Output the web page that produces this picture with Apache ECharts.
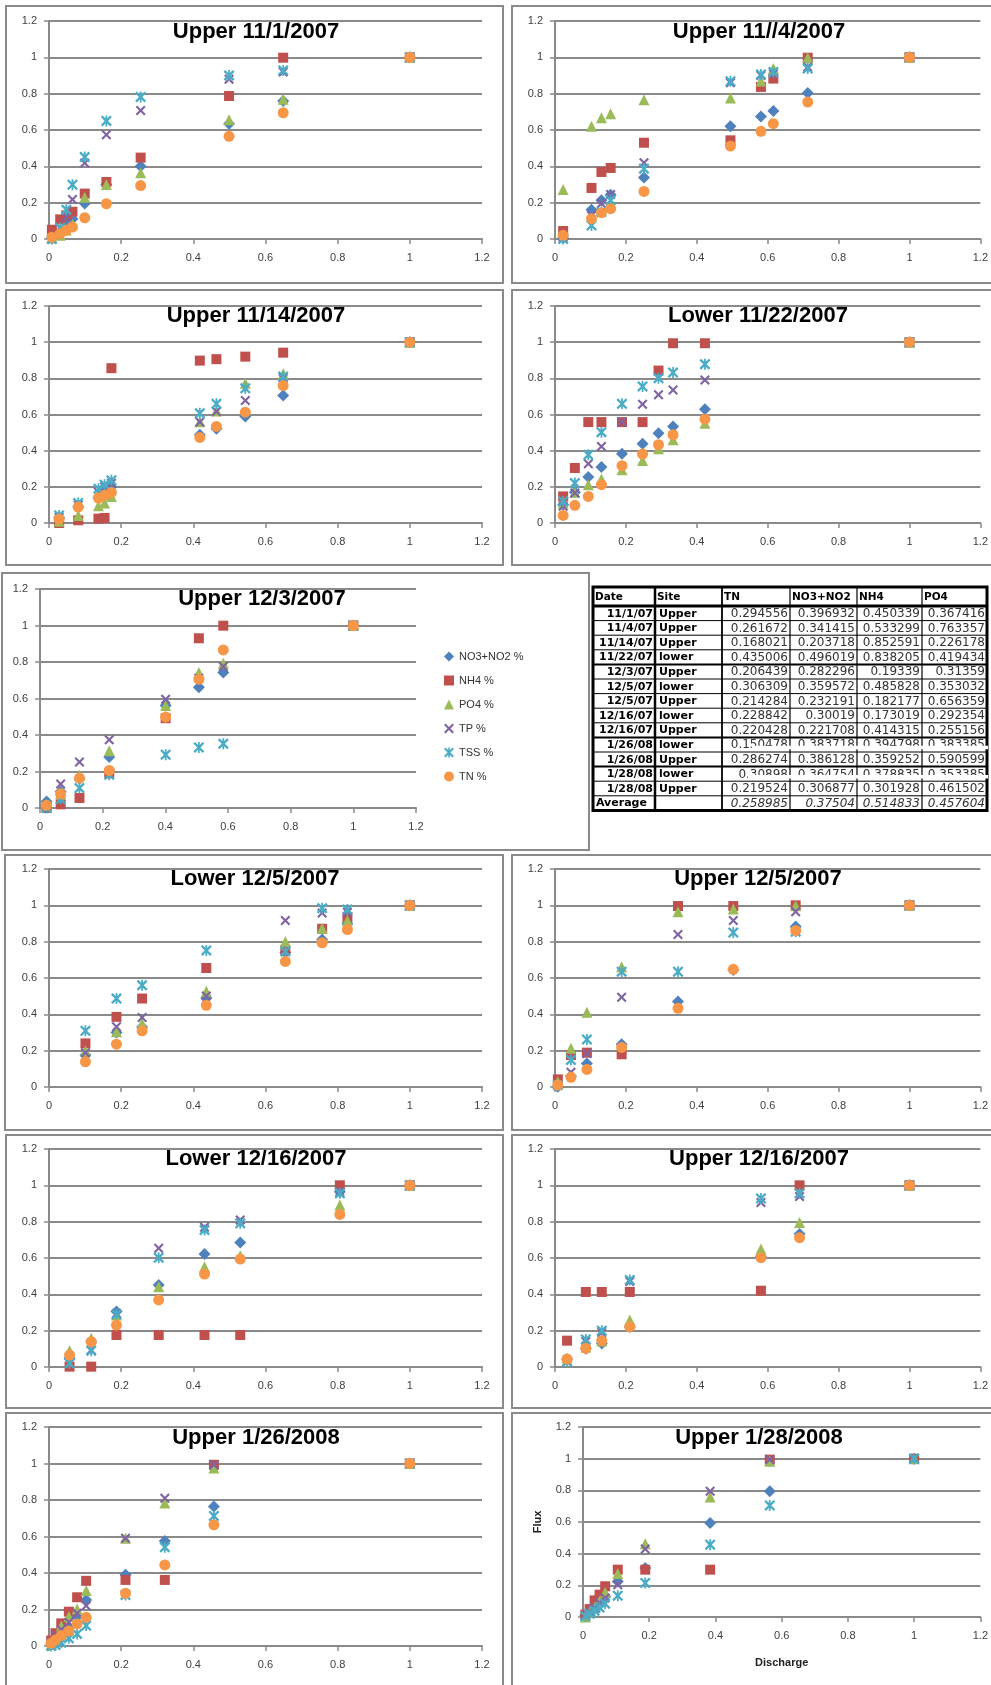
<!DOCTYPE html>
<html><head><meta charset="utf-8">
<script src="https://cdn.jsdelivr.net/npm/echarts@6/dist/echarts.min.js"></script>
<style>html,body{margin:0;padding:0;background:#fff}#c{width:991px;height:1685px}</style>
</head><body><div id="c"></div>
<script>
// ---------------- DATA ----------------
const seriesNames = ['NO3+NO2 %','NH4 %','PO4 %','TP %','TSS %','TN %'];
const panelTitles = ['Upper 11/1/2007','Upper 11//4/2007','Upper 11/14/2007','Lower 11/22/2007','Upper 12/3/2007',
  'Lower 12/5/2007','Upper 12/5/2007','Lower 12/16/2007','Upper 12/16/2007','Upper 1/26/2008','Upper 1/28/2008'];
const axisTicks = [0, 0.2, 0.4, 0.6, 0.8, 1, 1.2];

// Upper 11/1/2007
const x1 = [0.008, 0.031, 0.048, 0.065, 0.099, 0.159, 0.254, 0.499, 0.649, 1];
const no3_1 = [0.005, 0.04, 0.09, 0.11, 0.195, 0.30, 0.40, 0.635, 0.76, 1];
const nh4_1 = [0.051, 0.108, 0.13, 0.15, 0.25, 0.314, 0.448, 0.787, 0.998, 1];
const po4_1 = [0.007, 0.02, 0.05, 0.08, 0.23, 0.30, 0.365, 0.657, 0.769, 1];
const tp_1 = [0.0, 0.06, 0.12, 0.218, 0.418, 0.574, 0.708, 0.879, 0.919, 1];
const tss_1 = [0.0, 0.06, 0.161, 0.299, 0.451, 0.65, 0.782, 0.9, 0.928, 1];
const tn_1 = [0.01, 0.029, 0.048, 0.066, 0.117, 0.194, 0.294, 0.565, 0.695, 1];
// Upper 11//4/2007
const x2 = [0.023, 0.103, 0.131, 0.157, 0.251, 0.495, 0.581, 0.616, 0.713, 1];
const no3_2 = [0.005, 0.161, 0.213, 0.244, 0.338, 0.62, 0.675, 0.705, 0.804, 1];
const nh4_2 = [0.044, 0.281, 0.369, 0.391, 0.53, 0.543, 0.837, 0.883, 0.998, 1];
const po4_2 = [0.273, 0.62, 0.668, 0.69, 0.767, 0.776, 0.87, 0.938, 0.998, 1];
const tp_2 = [0.01, 0.13, 0.195, 0.245, 0.42, 0.86, 0.9, 0.91, 0.947, 1];
const tss_2 = [0.0, 0.075, 0.149, 0.213, 0.387, 0.868, 0.906, 0.919, 0.938, 1];
const tn_2 = [0.02, 0.112, 0.145, 0.167, 0.262, 0.512, 0.593, 0.635, 0.754, 1];
// Upper 11/14/2007
const x3 = [0.028, 0.081, 0.137, 0.154, 0.173, 0.418, 0.464, 0.544, 0.649, 1];
const no3_3 = [0.03, 0.09, 0.14, 0.17, 0.2, 0.488, 0.521, 0.589, 0.705, 1];
const nh4_3 = [0.0, 0.015, 0.024, 0.028, 0.856, 0.898, 0.906, 0.92, 0.942, 1];
const po4_3 = [0.01, 0.042, 0.096, 0.11, 0.147, 0.56, 0.62, 0.773, 0.825, 1];
const tp_3 = [0.03, 0.1, 0.17, 0.2, 0.22, 0.558, 0.617, 0.677, 0.8, 1];
const tss_3 = [0.042, 0.11, 0.19, 0.212, 0.236, 0.607, 0.659, 0.745, 0.81, 1];
const tn_3 = [0.022, 0.088, 0.138, 0.153, 0.169, 0.473, 0.534, 0.613, 0.76, 1];
// Lower 11/22/2007
const x4 = [0.023, 0.056, 0.094, 0.131, 0.189, 0.247, 0.292, 0.333, 0.423, 1];
const no3_4 = [0.101, 0.17, 0.254, 0.309, 0.383, 0.438, 0.497, 0.534, 0.629, 1];
const nh4_4 = [0.147, 0.304, 0.558, 0.558, 0.558, 0.558, 0.843, 0.994, 0.994, 1];
const po4_4 = [0.11, 0.17, 0.212, 0.243, 0.294, 0.346, 0.41, 0.46, 0.552, 1];
const tp_4 = [0.092, 0.166, 0.328, 0.423, 0.558, 0.657, 0.709, 0.736, 0.791, 1];
const tss_4 = [0.12, 0.221, 0.377, 0.502, 0.659, 0.755, 0.801, 0.832, 0.878, 1];
const tn_4 = [0.042, 0.098, 0.147, 0.212, 0.317, 0.381, 0.433, 0.488, 0.574, 1];
// Upper 12/3/2007
const x5 = [0.021, 0.066, 0.126, 0.221, 0.401, 0.507, 0.585, 1];
const no3_5 = [0.036, 0.091, 0.16, 0.279, 0.562, 0.662, 0.742, 1];
const nh4_5 = [0.0, 0.02, 0.055, 0.19, 0.492, 0.93, 0.999, 1];
const po4_5 = [0.02, 0.08, 0.18, 0.314, 0.562, 0.742, 0.793, 1];
const tp_5 = [0.01, 0.131, 0.252, 0.374, 0.596, 0.711, 0.775, 1];
const tss_5 = [0.0, 0.049, 0.109, 0.182, 0.292, 0.332, 0.352, 1];
const tn_5 = [0.015, 0.078, 0.164, 0.206, 0.498, 0.706, 0.866, 1];
// Lower 12/5/2007
const x6 = [0.101, 0.187, 0.258, 0.436, 0.655, 0.757, 0.827, 1];
const no3_6 = [0.176, 0.30, 0.33, 0.49, 0.74, 0.812, 0.90, 1];
const nh4_6 = [0.24, 0.386, 0.487, 0.655, 0.755, 0.871, 0.935, 1];
const po4_6 = [0.198, 0.304, 0.349, 0.527, 0.801, 0.874, 0.916, 1];
const tp_6 = [0.188, 0.331, 0.382, 0.501, 0.916, 0.958, 0.962, 1];
const tss_6 = [0.309, 0.487, 0.56, 0.752, 0.746, 0.984, 0.977, 1];
const tn_6 = [0.139, 0.236, 0.309, 0.45, 0.691, 0.794, 0.867, 1];
// Upper 12/5/2007
const x7 = [0.008, 0.045, 0.09, 0.188, 0.347, 0.503, 0.679, 1];
const no3_7 = [0.002, 0.06, 0.13, 0.235, 0.47, 0.644, 0.883, 1];
const nh4_7 = [0.042, 0.176, 0.189, 0.18, 0.996, 0.996, 1.0, 1];
const po4_7 = [0.029, 0.213, 0.411, 0.662, 0.965, 0.98, 0.998, 1];
const tp_7 = [0.011, 0.081, 0.185, 0.494, 0.84, 0.916, 0.965, 1];
const tss_7 = [0.011, 0.149, 0.262, 0.635, 0.635, 0.85, 0.855, 1];
const tn_7 = [0.011, 0.053, 0.097, 0.218, 0.433, 0.648, 0.861, 1];
// Lower 12/16/2007
const x8 = [0.057, 0.117, 0.187, 0.304, 0.431, 0.53, 0.806, 1];
const no3_8 = [0.048, 0.14, 0.305, 0.451, 0.622, 0.686, 0.965, 1];
const nh4_8 = [0.002, 0.002, 0.176, 0.176, 0.176, 0.176, 1.0, 1];
const po4_8 = [0.09, 0.158, 0.286, 0.442, 0.552, 0.613, 0.892, 1];
const tp_8 = [0.02, 0.094, 0.295, 0.653, 0.769, 0.809, 0.965, 1];
const tss_8 = [0.02, 0.09, 0.29, 0.602, 0.754, 0.791, 0.956, 1];
const tn_8 = [0.066, 0.139, 0.231, 0.369, 0.512, 0.594, 0.84, 1];
// Upper 12/16/2007
const x9 = [0.034, 0.087, 0.132, 0.211, 0.581, 0.69, 1];
const no3_9 = [0.04, 0.1, 0.13, 0.22, 0.61, 0.732, 1];
const nh4_9 = [0.145, 0.413, 0.413, 0.413, 0.42, 1.0, 1];
const po4_9 = [0.05, 0.11, 0.143, 0.259, 0.65, 0.796, 1];
const tp_9 = [0.03, 0.14, 0.19, 0.47, 0.906, 0.938, 1];
const tss_9 = [0.029, 0.152, 0.2, 0.479, 0.928, 0.956, 1];
const tn_9 = [0.044, 0.103, 0.145, 0.222, 0.602, 0.712, 1];
// Upper 1/26/2008
const x10 = [0.006, 0.018, 0.034, 0.055, 0.078, 0.103, 0.212, 0.321, 0.457, 1];
const no3_10 = [0.01, 0.03, 0.06, 0.1, 0.16, 0.252, 0.39, 0.576, 0.765, 1];
const nh4_10 = [0.03, 0.07, 0.124, 0.188, 0.267, 0.357, 0.362, 0.362, 0.993, 1];
const po4_10 = [0.01, 0.04, 0.11, 0.161, 0.203, 0.304, 0.59, 0.783, 0.975, 1];
const tp_10 = [0.02, 0.06, 0.09, 0.13, 0.179, 0.22, 0.59, 0.81, 0.993, 1];
const tss_10 = [0.0, 0.005, 0.018, 0.042, 0.066, 0.112, 0.28, 0.541, 0.713, 1];
const tn_10 = [0.015, 0.033, 0.057, 0.082, 0.121, 0.157, 0.289, 0.444, 0.664, 1];
// Upper 1/28/2008 (no TN points shown)
const x11 = [0.007, 0.02, 0.035, 0.05, 0.067, 0.105, 0.188, 0.384, 0.564, 1];
const no3_11 = [0.01, 0.03, 0.06, 0.09, 0.13, 0.225, 0.31, 0.594, 0.794, 1];
const nh4_11 = [0.015, 0.05, 0.105, 0.141, 0.194, 0.299, 0.299, 0.299, 0.994, 1];
const po4_11 = [0.0, 0.03, 0.06, 0.1, 0.156, 0.274, 0.463, 0.758, 0.983, 1];
const tp_11 = [0.01, 0.03, 0.06, 0.09, 0.12, 0.204, 0.429, 0.794, 0.994, 1];
const tss_11 = [0.005, 0.02, 0.04, 0.06, 0.084, 0.135, 0.215, 0.457, 0.705, 1];
const tn_11 = [];

// Table
const tableHeader = ['Date','Site','TN','NO3+NO2','NH4','PO4'];
const tableDates = ['11/1/07','11/4/07','11/14/07','11/22/07','12/3/07','12/5/07','12/5/07','12/16/07','12/16/07','1/26/08','1/26/08','1/28/08','1/28/08'];
const tableSites = ['Upper','Upper','Upper','lower','Upper','lower','Upper','lower','Upper','lower','Upper','lower','Upper'];
const tableTN  = ['0.294556','0.261672','0.168021','0.435006','0.206439','0.306309','0.214284','0.228842','0.220428','0.150478','0.286274','0.30898','0.219524'];
const tableNO3 = ['0.396932','0.341415','0.203718','0.496019','0.282296','0.359572','0.232191','0.30019','0.221708','0.383718','0.386128','0.364754','0.306877'];
const tableNH4 = ['0.450339','0.533299','0.852591','0.838205','0.19339','0.485828','0.182177','0.173019','0.414315','0.394798','0.359252','0.378835','0.301928'];
const tablePO4 = ['0.367416','0.763357','0.226178','0.419434','0.31359','0.353032','0.656359','0.292354','0.255156','0.383385','0.590599','0.353385','0.461502'];
const tableAvgLabel = 'Average';
const tableAvg = ['0.258985','0.37504','0.514833','0.457604'];

// ---------------- LAYOUT / STYLE ----------------
const COLORS = ['#4F81BD','#C0504D','#9BBB59','#8064A2','#4BACC6','#F79646'];
const X_PATH = 'path://M0,1.5L1.5,0L5,3.5L8.5,0L10,1.5L6.5,5L10,8.5L8.5,10L5,6.5L1.5,10L0,8.5L3.5,5Z';
const STAR_PATH = 'path://M0,1.5L1.5,0L5,3.5L8.5,0L10,1.5L6.5,5L10,8.5L8.5,10L5,6.5L1.5,10L0,8.5L3.5,5ZM4.2,0L5.8,0L5.8,10L4.2,10Z';
const SYMBOLS = ['diamond','rect','triangle',X_PATH,STAR_PATH,'circle'];
const SIZES = [12,10,11,10,11,11];

const panels = [
  {x:x1, ys:[no3_1,nh4_1,po4_1,tp_1,tss_1,tn_1]},
  {x:x2, ys:[no3_2,nh4_2,po4_2,tp_2,tss_2,tn_2]},
  {x:x3, ys:[no3_3,nh4_3,po4_3,tp_3,tss_3,tn_3]},
  {x:x4, ys:[no3_4,nh4_4,po4_4,tp_4,tss_4,tn_4]},
  {x:x5, ys:[no3_5,nh4_5,po4_5,tp_5,tss_5,tn_5]},
  {x:x6, ys:[no3_6,nh4_6,po4_6,tp_6,tss_6,tn_6]},
  {x:x7, ys:[no3_7,nh4_7,po4_7,tp_7,tss_7,tn_7]},
  {x:x8, ys:[no3_8,nh4_8,po4_8,tp_8,tss_8,tn_8]},
  {x:x9, ys:[no3_9,nh4_9,po4_9,tp_9,tss_9,tn_9]},
  {x:x10, ys:[no3_10,nh4_10,po4_10,tp_10,tss_10,tn_10]},
  {x:x11, ys:[no3_11,nh4_11,po4_11,tp_11,tss_11,tn_11]}
];

const grids = [
  {left:49, top:21, width:433, height:218},
  {left:555, top:21, width:426, height:218},
  {left:49, top:306, width:433, height:217},
  {left:555, top:306, width:426, height:217},
  {left:40, top:589, width:376, height:219},
  {left:49, top:869, width:433, height:218},
  {left:555, top:869, width:426, height:218},
  {left:49, top:1149, width:433, height:218},
  {left:555, top:1149, width:426, height:218},
  {left:49, top:1427, width:433, height:219},
  {left:583, top:1427, width:398, height:190}
];
const titlePos = [[256,32],[759,32],[256,316],[758,316],[262,599],[255,879],[758,879],[256,1159],[759,1159],[256,1438],[759,1438]];
const borders = [
  [6,6,497,277],[512,6,490,277],
  [6,290,497,275],[512,290,490,275],
  [2,573,587,277],
  [5,855,498,275],[512,855,490,275],
  [6,1135,497,273],[512,1135,490,273],
  [6,1413,497,290],[512,1413,490,290]
];

const AX = '#8a8a8a';
const FONT = '"Liberation Sans", Arial, sans-serif';

const xAxes = grids.map((g,i)=>({
  type:'value', gridIndex:i, min:axisTicks[0], max:axisTicks[axisTicks.length-1], interval:0.2,
  splitLine:{show:false},
  axisLine:{show:true, onZero:false, lineStyle:{color:AX, width:2}},
  axisTick:{show:true, length:5, lineStyle:{color:AX, width:1.5}},
  axisLabel:{color:'#404040', fontSize:11, margin:13, fontFamily:FONT},
  name: i===10 ? 'Discharge' : '', nameLocation:'middle', nameGap:40,
  nameTextStyle:{fontWeight:'bold', fontSize:11, color:'#222', fontFamily:FONT}
}));
const yAxes = grids.map((g,i)=>({
  type:'value', gridIndex:i, min:axisTicks[0], max:axisTicks[axisTicks.length-1], interval:0.2,
  splitLine:{show:true, lineStyle:{color:AX, width:2}},
  axisLine:{show:true, lineStyle:{color:AX, width:2}},
  axisTick:{show:true, length:5, lineStyle:{color:AX, width:1.5}},
  axisLabel:{color:'#404040', fontSize:11, margin:12, fontFamily:FONT},
  name: i===10 ? 'Flux' : '', nameLocation:'middle', nameGap:40,
  nameTextStyle:{fontWeight:'bold', fontSize:11, color:'#222', fontFamily:FONT}
}));

const series = [];
panels.forEach((p,gi)=>{
  p.ys.forEach((ys,si)=>{
    series.push({
      type:'scatter', name:seriesNames[si], xAxisIndex:gi, yAxisIndex:gi,
      symbol:SYMBOLS[si], symbolSize:SIZES[si],
      itemStyle:{color:COLORS[si], opacity:1},
      emphasis:{disabled:true},
      data: ys.map((v,k)=>[p.x[k], v])
    });
  });
});

// graphics: borders, titles, table
const graphics = [];
borders.forEach(b=>graphics.push({type:'rect', silent:true, shape:{x:b[0],y:b[1],width:b[2],height:b[3]}, style:{fill:'none', stroke:'#8a8a8a', lineWidth:2}}));
panelTitles.forEach((t,i)=>graphics.push({type:'text', silent:true, x:titlePos[i][0], y:titlePos[i][1],
  style:{text:t, fill:'#000', font:'bold 22px ' + FONT, align:'center', verticalAlign:'middle'}}));

const colX = [593, 655, 722, 790, 857, 922, 987];
const TABLE_TOP = 587, HEAD_H = 19, ROW_H = 14.6;
const rowY = [TABLE_TOP];
for (let k = 0; k <= tableDates.length + 1; k++) rowY.push(TABLE_TOP + HEAD_H + k * ROW_H);
const TFONT = '"DejaVu Sans", sans-serif';
graphics.push({type:'rect', silent:true, shape:{x:colX[0], y:rowY[0], width:colX[6]-colX[0], height:rowY[rowY.length-1]-rowY[0]}, style:{fill:'#fff', stroke:'#000', lineWidth:3}});
rowY.slice(1,-1).forEach((y,i)=>{
  const idx = i+1;
  const w = idx===1 ? 3 : ((idx===5||idx===10||idx===12) ? 2 : 1);
  graphics.push({type:'line', silent:true, shape:{x1:colX[0], y1:y, x2:colX[6], y2:y}, style:{stroke:'#000', lineWidth:w}});
});
colX.slice(1,-1).forEach((x,i)=>{
  const w = i===0 ? 2.5 : (i===1 ? 1.8 : 1.2);
  graphics.push({type:'line', silent:true, shape:{x1:x, y1:rowY[0], x2:x, y2:rowY[rowY.length-1]}, style:{stroke:'#000', lineWidth:w}});
});
const rc = k => (rowY[k]+rowY[k+1])/2;
tableHeader.forEach((h,c)=>graphics.push({type:'text', silent:true, x:colX[c]+2, y:rc(0)+0.5,
  style:{text:h, fill:'#000', font:'bold 10.5px ' + TFONT, align:'left', verticalAlign:'middle'}}));
const numCols = [tableTN, tableNO3, tableNH4, tablePO4];
tableDates.forEach((d,r)=>{
  const y = rc(r+1)+0.5;
  graphics.push({type:'text', silent:true, x:colX[1]-2, y, style:{text:d, fill:'#000', font:'bold 11px ' + TFONT, align:'right', verticalAlign:'middle'}});
  graphics.push({type:'text', silent:true, x:colX[1]+4, y, style:{text:tableSites[r], fill:'#000', font:'bold 11px ' + TFONT, align:'left', verticalAlign:'middle'}});
  numCols.forEach((col,c)=>graphics.push({type:'text', silent:true, x:colX[c+3]-2, y,
    style:{text:col[r], fill:'#333', font:'12px ' + TFONT, align:'right', verticalAlign:'middle'}}));
});
{
  const y = rc(14)+0.5;
  graphics.push({type:'text', silent:true, x:colX[0]+3, y, style:{text:tableAvgLabel, fill:'#000', font:'bold 11px ' + TFONT, align:'left', verticalAlign:'middle'}});
  tableAvg.forEach((v,c)=>graphics.push({type:'text', silent:true, x:colX[c+3]-2, y,
    style:{text:v, fill:'#333', font:'italic 12px ' + TFONT, align:'right', verticalAlign:'middle'}}));
}
// white scan-line artefacts crossing two rows
graphics.push({type:'rect', silent:true, shape:{x:752, y:rc(10)+1, width:236, height:3.5}, style:{fill:'#fff'}});
graphics.push({type:'rect', silent:true, shape:{x:748, y:rc(12)+1, width:240, height:3.5}, style:{fill:'#fff'}});

const option = {
  animation:false,
  backgroundColor:'#fff',
  grid: grids,
  xAxis: xAxes,
  yAxis: yAxes,
  legend: {
    orient:'vertical', left:439, top:646, itemWidth:10, itemHeight:10, itemGap:13,
    textStyle:{fontSize:11, color:'#333', fontFamily:FONT},
    data: seriesNames.map((n,i)=>({name:n, icon:SYMBOLS[i], itemStyle:{color:COLORS[i]}}))
  },
  graphic: {elements: graphics},
  series: series
};
const chart = echarts.init(document.getElementById('c'), null, {renderer:'canvas'});
chart.setOption(option);
</script>
</body></html>
